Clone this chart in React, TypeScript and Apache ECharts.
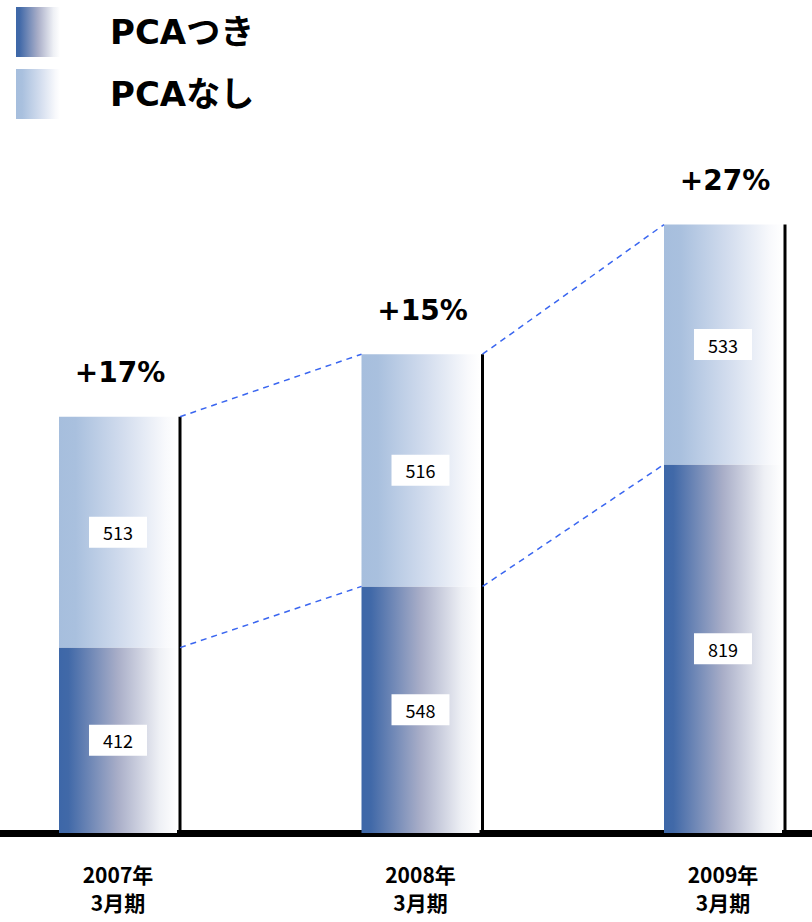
import React, { useEffect, useRef } from "react";
import * as echarts from "echarts";

const categories = ["2007年\n3月期", "2008年\n3月期", "2009年\n3月期"];
const withPCA = [412, 548, 819];
const withoutPCA = [513, 516, 533];
const growthLabels = ["+17%", "+15%", "+27%"];
const seriesNames = ["PCAつき", "PCAなし"];

const BAR_W = 118;

export default function App() {
  const ref = useRef<HTMLDivElement>(null);
  useEffect(() => {
    if (!ref.current) return;
    const chart = echarts.init(ref.current, null, { renderer: "svg" });
    const totals = withPCA.map((v, i) => v + withoutPCA[i]);

    const darkGrad = new echarts.graphic.LinearGradient(0, 0, 1, 0, [
      { offset: 0, color: "#3d67a8" },
      { offset: 0.08, color: "#4169a8" },
      { offset: 0.5, color: "#a9aec8" },
      { offset: 0.85, color: "#eef0f5" },
      { offset: 1, color: "#ffffff" },
    ]);
    const lightGrad = new echarts.graphic.LinearGradient(0, 0, 1, 0, [
      { offset: 0, color: "#a6bedd" },
      { offset: 0.14, color: "#a9c0de" },
      { offset: 0.55, color: "#d3ddee" },
      { offset: 0.9, color: "#f8f9fc" },
      { offset: 1, color: "#ffffff" },
    ]);

    const valueLabel = {
      show: true,
      position: "inside",
      formatter: "{c}",
      backgroundColor: "#ffffff",
      color: "#000000",
      fontFamily: "Noto Sans CJK JP",
      fontSize: 18,
      lineHeight: 19,
      padding: [6, 14],
    };

    chart.setOption({
      animation: false,
      legend: {
        orient: "vertical",
        left: 16,
        top: 7,
        padding: 0,
        itemWidth: 44,
        itemHeight: 50,
        itemGap: 12,
        icon: "rect",
        data: seriesNames,
        textStyle: {
          fontFamily: "DejaVu Sans, Noto Sans CJK JP",
          fontSize: 34,
          fontWeight: "bold",
          color: "#000000",
          padding: [0, 0, 0, 45],
        },
      },
      grid: {
        left: -33.25,
        width: 907.5,
        top: 23,
        bottom: 89,
        outerBoundsMode: "none",
        containLabel: false,
      },
      xAxis: {
        type: "category",
        data: categories,
        axisLine: { lineStyle: { color: "#000000", width: 7 } },
        axisTick: { show: false },
        axisLabel: {
          margin: 27,
          color: "#000000",
          fontFamily: "Noto Sans CJK JP",
          fontWeight: "bold",
          fontSize: 21,
          lineHeight: 28,
        },
      },
      yAxis: { type: "value", min: 0, max: 1800, show: false },
      series: [
        {
          name: seriesNames[0],
          type: "bar",
          stack: "total",
          barWidth: BAR_W,
          data: withPCA,
          itemStyle: { color: darkGrad },
          label: valueLabel,
        },
        {
          name: seriesNames[1],
          type: "bar",
          stack: "total",
          barWidth: BAR_W,
          data: withoutPCA,
          itemStyle: { color: lightGrad },
          label: valueLabel,
        },
        {
          type: "custom",
          silent: true,
          z: 5,
          data: totals.map((t, i) => [i, t, withPCA[i]]),
          renderItem: (params: any, api: any) => {
            const i = params.dataIndex;
            const base = api.coord([i, 0]);
            const top = api.coord([i, totals[i]]);
            const lineX = base[0] + BAR_W / 2 + 3;
            const children: any[] = [
              {
                type: "line",
                shape: { x1: lineX, y1: base[1], x2: lineX, y2: top[1] },
                style: { stroke: "#000000", lineWidth: 3 },
              },
              {
                type: "text",
                x: base[0] + 2,
                y: top[1] - 44,
                style: {
                  text: growthLabels[i],
                  fontFamily: "DejaVu Sans",
                  fontWeight: "bold",
                  fontSize: 28,
                  fill: "#000000",
                  align: "center",
                  verticalAlign: "middle",
                },
              },
            ];
            if (i < totals.length - 1) {
              const mid = api.coord([i, withPCA[i]]);
              const nTop = api.coord([i + 1, totals[i + 1]]);
              const nMid = api.coord([i + 1, withPCA[i + 1]]);
              const nx = nTop[0] - BAR_W / 2;
              const dash = { stroke: "#3a66f0", lineWidth: 1.5, lineDash: [6, 5] };
              children.push(
                {
                  type: "line",
                  shape: { x1: lineX, y1: top[1], x2: nx, y2: nTop[1] },
                  style: dash,
                },
                {
                  type: "line",
                  shape: { x1: lineX, y1: mid[1], x2: nx, y2: nMid[1] },
                  style: dash,
                }
              );
            }
            return { type: "group", children };
          },
        },
      ],
    });
    return () => chart.dispose();
  }, []);
  return (
    <div
      ref={ref}
      style={{ position: "fixed", left: 0, top: 0, width: 812, height: 922, background: "#ffffff" }}
    />
  );
}
